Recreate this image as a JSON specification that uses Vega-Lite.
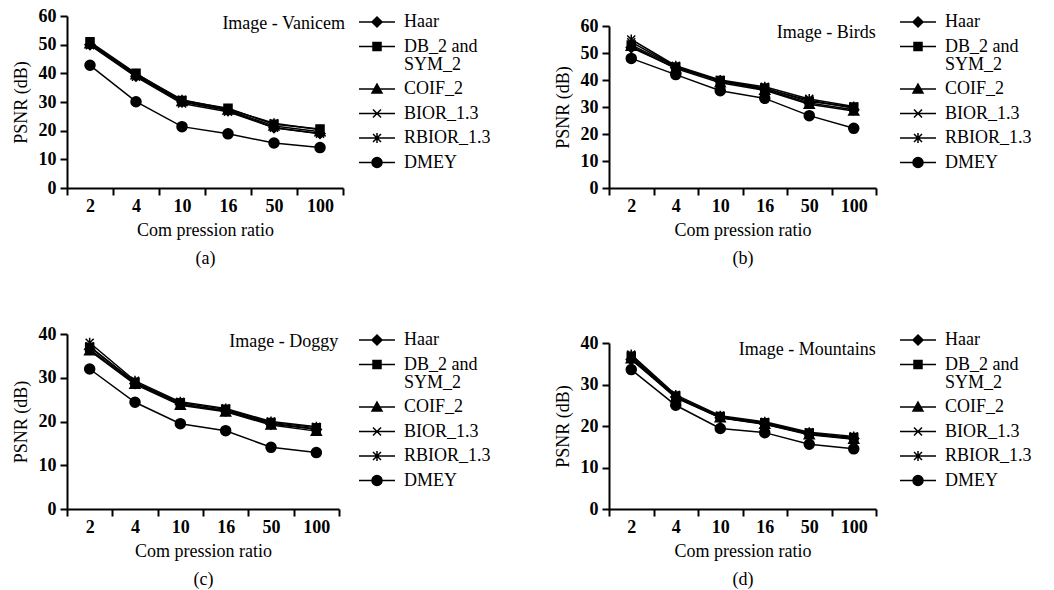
{
  "$schema": "https://vega.github.io/schema/vega-lite/v6.json",
  "padding": {"left": 12, "top": 7, "right": 5, "bottom": 5},
  "background": "white",
  "data": {"values": [
    {"p":"a","w":"Haar","r":"2","v":50},{"p":"a","w":"Haar","r":"4","v":39},{"p":"a","w":"Haar","r":"10","v":30},{"p":"a","w":"Haar","r":"16","v":27},{"p":"a","w":"Haar","r":"50","v":21},{"p":"a","w":"Haar","r":"100","v":19},
    {"p":"a","w":"DB_2 and SYM_2","r":"2","v":51},{"p":"a","w":"DB_2 and SYM_2","r":"4","v":40},{"p":"a","w":"DB_2 and SYM_2","r":"10","v":30.5},{"p":"a","w":"DB_2 and SYM_2","r":"16","v":27.8},{"p":"a","w":"DB_2 and SYM_2","r":"50","v":22.2},{"p":"a","w":"DB_2 and SYM_2","r":"100","v":20.6},
    {"p":"a","w":"COIF_2","r":"2","v":50.3},{"p":"a","w":"COIF_2","r":"4","v":39.5},{"p":"a","w":"COIF_2","r":"10","v":30.2},{"p":"a","w":"COIF_2","r":"16","v":27.2},{"p":"a","w":"COIF_2","r":"50","v":21.6},{"p":"a","w":"COIF_2","r":"100","v":19.6},
    {"p":"a","w":"BIOR_1.3","r":"2","v":49.8},{"p":"a","w":"BIOR_1.3","r":"4","v":38.8},{"p":"a","w":"BIOR_1.3","r":"10","v":29.5},{"p":"a","w":"BIOR_1.3","r":"16","v":26.6},{"p":"a","w":"BIOR_1.3","r":"50","v":21},{"p":"a","w":"BIOR_1.3","r":"100","v":18.9},
    {"p":"a","w":"RBIOR_1.3","r":"2","v":50.5},{"p":"a","w":"RBIOR_1.3","r":"4","v":39.8},{"p":"a","w":"RBIOR_1.3","r":"10","v":30.8},{"p":"a","w":"RBIOR_1.3","r":"16","v":27.5},{"p":"a","w":"RBIOR_1.3","r":"50","v":22.6},{"p":"a","w":"RBIOR_1.3","r":"100","v":20.3},
    {"p":"a","w":"DMEY","r":"2","v":42.8},{"p":"a","w":"DMEY","r":"4","v":30.1},{"p":"a","w":"DMEY","r":"10","v":21.4},{"p":"a","w":"DMEY","r":"16","v":18.9},{"p":"a","w":"DMEY","r":"50","v":15.7},{"p":"a","w":"DMEY","r":"100","v":14.1},

    {"p":"b","w":"Haar","r":"2","v":52},{"p":"b","w":"Haar","r":"4","v":44.5},{"p":"b","w":"Haar","r":"10","v":39.5},{"p":"b","w":"Haar","r":"16","v":36.5},{"p":"b","w":"Haar","r":"50","v":31.5},{"p":"b","w":"Haar","r":"100","v":29},
    {"p":"b","w":"DB_2 and SYM_2","r":"2","v":53},{"p":"b","w":"DB_2 and SYM_2","r":"4","v":44.8},{"p":"b","w":"DB_2 and SYM_2","r":"10","v":39.8},{"p":"b","w":"DB_2 and SYM_2","r":"16","v":37},{"p":"b","w":"DB_2 and SYM_2","r":"50","v":32},{"p":"b","w":"DB_2 and SYM_2","r":"100","v":30},
    {"p":"b","w":"COIF_2","r":"2","v":52.5},{"p":"b","w":"COIF_2","r":"4","v":44.2},{"p":"b","w":"COIF_2","r":"10","v":39},{"p":"b","w":"COIF_2","r":"16","v":36.2},{"p":"b","w":"COIF_2","r":"50","v":31},{"p":"b","w":"COIF_2","r":"100","v":28.5},
    {"p":"b","w":"BIOR_1.3","r":"2","v":54},{"p":"b","w":"BIOR_1.3","r":"4","v":45},{"p":"b","w":"BIOR_1.3","r":"10","v":39.5},{"p":"b","w":"BIOR_1.3","r":"16","v":36.8},{"p":"b","w":"BIOR_1.3","r":"50","v":32.5},{"p":"b","w":"BIOR_1.3","r":"100","v":29.5},
    {"p":"b","w":"RBIOR_1.3","r":"2","v":55},{"p":"b","w":"RBIOR_1.3","r":"4","v":45.3},{"p":"b","w":"RBIOR_1.3","r":"10","v":40},{"p":"b","w":"RBIOR_1.3","r":"16","v":37.5},{"p":"b","w":"RBIOR_1.3","r":"50","v":33},{"p":"b","w":"RBIOR_1.3","r":"100","v":30.2},
    {"p":"b","w":"DMEY","r":"2","v":48},{"p":"b","w":"DMEY","r":"4","v":42},{"p":"b","w":"DMEY","r":"10","v":36},{"p":"b","w":"DMEY","r":"16","v":33.2},{"p":"b","w":"DMEY","r":"50","v":26.8},{"p":"b","w":"DMEY","r":"100","v":22.1},

    {"p":"c","w":"Haar","r":"2","v":36.5},{"p":"c","w":"Haar","r":"4","v":28.7},{"p":"c","w":"Haar","r":"10","v":24},{"p":"c","w":"Haar","r":"16","v":22.4},{"p":"c","w":"Haar","r":"50","v":19.4},{"p":"c","w":"Haar","r":"100","v":18.2},
    {"p":"c","w":"DB_2 and SYM_2","r":"2","v":37},{"p":"c","w":"DB_2 and SYM_2","r":"4","v":29},{"p":"c","w":"DB_2 and SYM_2","r":"10","v":24.3},{"p":"c","w":"DB_2 and SYM_2","r":"16","v":22.8},{"p":"c","w":"DB_2 and SYM_2","r":"50","v":19.8},{"p":"c","w":"DB_2 and SYM_2","r":"100","v":18.6},
    {"p":"c","w":"COIF_2","r":"2","v":36.2},{"p":"c","w":"COIF_2","r":"4","v":28.5},{"p":"c","w":"COIF_2","r":"10","v":23.7},{"p":"c","w":"COIF_2","r":"16","v":22.2},{"p":"c","w":"COIF_2","r":"50","v":19.2},{"p":"c","w":"COIF_2","r":"100","v":17.8},
    {"p":"c","w":"BIOR_1.3","r":"2","v":37.2},{"p":"c","w":"BIOR_1.3","r":"4","v":28.9},{"p":"c","w":"BIOR_1.3","r":"10","v":23.9},{"p":"c","w":"BIOR_1.3","r":"16","v":22.5},{"p":"c","w":"BIOR_1.3","r":"50","v":19.6},{"p":"c","w":"BIOR_1.3","r":"100","v":18.3},
    {"p":"c","w":"RBIOR_1.3","r":"2","v":38},{"p":"c","w":"RBIOR_1.3","r":"4","v":29.3},{"p":"c","w":"RBIOR_1.3","r":"10","v":24.5},{"p":"c","w":"RBIOR_1.3","r":"16","v":23},{"p":"c","w":"RBIOR_1.3","r":"50","v":20},{"p":"c","w":"RBIOR_1.3","r":"100","v":18.8},
    {"p":"c","w":"DMEY","r":"2","v":32},{"p":"c","w":"DMEY","r":"4","v":24.4},{"p":"c","w":"DMEY","r":"10","v":19.5},{"p":"c","w":"DMEY","r":"16","v":17.9},{"p":"c","w":"DMEY","r":"50","v":14.1},{"p":"c","w":"DMEY","r":"100","v":12.9},

    {"p":"d","w":"Haar","r":"2","v":36},{"p":"d","w":"Haar","r":"4","v":27},{"p":"d","w":"Haar","r":"10","v":22},{"p":"d","w":"Haar","r":"16","v":20.5},{"p":"d","w":"Haar","r":"50","v":18},{"p":"d","w":"Haar","r":"100","v":17},
    {"p":"d","w":"DB_2 and SYM_2","r":"2","v":36.8},{"p":"d","w":"DB_2 and SYM_2","r":"4","v":27.2},{"p":"d","w":"DB_2 and SYM_2","r":"10","v":22.3},{"p":"d","w":"DB_2 and SYM_2","r":"16","v":20.8},{"p":"d","w":"DB_2 and SYM_2","r":"50","v":18.3},{"p":"d","w":"DB_2 and SYM_2","r":"100","v":17.2},
    {"p":"d","w":"COIF_2","r":"2","v":36.2},{"p":"d","w":"COIF_2","r":"4","v":26.8},{"p":"d","w":"COIF_2","r":"10","v":22},{"p":"d","w":"COIF_2","r":"16","v":20.4},{"p":"d","w":"COIF_2","r":"50","v":17.9},{"p":"d","w":"COIF_2","r":"100","v":16.8},
    {"p":"d","w":"BIOR_1.3","r":"2","v":36.5},{"p":"d","w":"BIOR_1.3","r":"4","v":27},{"p":"d","w":"BIOR_1.3","r":"10","v":22.1},{"p":"d","w":"BIOR_1.3","r":"16","v":20.6},{"p":"d","w":"BIOR_1.3","r":"50","v":18.1},{"p":"d","w":"BIOR_1.3","r":"100","v":16.9},
    {"p":"d","w":"RBIOR_1.3","r":"2","v":37.2},{"p":"d","w":"RBIOR_1.3","r":"4","v":27.5},{"p":"d","w":"RBIOR_1.3","r":"10","v":22.5},{"p":"d","w":"RBIOR_1.3","r":"16","v":21},{"p":"d","w":"RBIOR_1.3","r":"50","v":18.5},{"p":"d","w":"RBIOR_1.3","r":"100","v":17.5},
    {"p":"d","w":"DMEY","r":"2","v":33.6},{"p":"d","w":"DMEY","r":"4","v":25},{"p":"d","w":"DMEY","r":"10","v":19.4},{"p":"d","w":"DMEY","r":"16","v":18.4},{"p":"d","w":"DMEY","r":"50","v":15.6},{"p":"d","w":"DMEY","r":"100","v":14.5}
  ]},
  "config": {
    "font": "Liberation Serif",
    "view": {"stroke": null},
    "text": {"font": "Liberation Serif"},
    "style": {"guide-label": {"lineHeight": 18}},
    "axis": {"domainColor": "black", "domainWidth": 2, "tickColor": "black", "tickWidth": 2, "tickSize": 7, "labelFont": "Liberation Serif", "labelFontSize": 18, "labelFontWeight": "bold", "labelColor": "black", "titleFont": "Liberation Serif", "titleFontSize": 18, "titleFontWeight": "normal", "titleColor": "black", "grid": false},
    "axisX": {"labelPadding": 2, "titlePadding": 6, "titleLineHeight": 28, "labelAngle": 0, "tickBand": "extent"},
    "axisY": {"labelPadding": 4, "titlePadding": 8},
    "legend": {"labelFont": "Liberation Serif", "labelFontSize": 18, "labelColor": "black", "symbolSize": 100, "rowPadding": 6.5, "labelOffset": 18, "padding": 0, "labelLimit": 200}
  },
  "spacing": 58,
  "vconcat": [
    {"hconcat": [
      {"width": 276, "height": 172,
       "transform": [{"filter": "datum.p == 'a'"}],
       "encoding": {
         "x": {"field": "r", "type": "ordinal", "sort": ["2","4","10","16","50","100"], "scale": {"type": "band", "paddingInner": 0, "paddingOuter": 0}, "axis": {"title": ["Com pression ratio", "(a)"]}},
         "y": {"field": "v", "type": "quantitative", "scale": {"domain": [0, 60]}, "axis": {"values": [0,10,20,30,40,50,60], "title": "PSNR (dB)"}}
       },
       "layer": [
         {"mark": {"type": "line", "color": "black", "strokeWidth": 1.5}, "encoding": {"detail": {"field": "w"}}},
         {"mark": {"type": "point", "fill": "black", "stroke": "black", "strokeWidth": 1.5, "opacity": 1, "size": 100},
          "encoding": {"shape": {"field": "w", "type": "nominal", "scale": {"domain": ["Haar","DB_2 and SYM_2","COIF_2","BIOR_1.3","RBIOR_1.3","DMEY"], "range": ["M0,-1L1,0L0,1L-1,0Z","M-0.8,-0.8H0.8V0.8H-0.8Z","M0,-1L1,0.8H-1Z","M-0.8,-0.8L0.8,0.8M-0.8,0.8L0.8,-0.8","M-0.8,-0.8L0.8,0.8M-0.8,0.8L0.8,-0.8M0,-1V1","M-1,0A1,1 0 1,0 1,0A1,1 0 1,0 -1,0Z"]}, "legend": null}}},
         {"transform": [{"filter": "false"}],
          "mark": {"type": "point", "fill": "black", "stroke": "black", "strokeWidth": 2, "opacity": 1, "size": 100},
          "encoding": {"shape": {"field": "w", "type": "nominal", "scale": {"domain": ["Haar","DB_2 and SYM_2","COIF_2","BIOR_1.3","RBIOR_1.3","DMEY"], "range": ["M-3.6,0H3.6M0,-1L1,0L0,1L-1,0Z","M-3.6,0H3.6M-0.8,-0.8H0.8V0.8H-0.8Z","M-3.6,0H3.6M0,-1L1,0.8H-1Z","M-3.6,0H3.6M-0.8,-0.8L0.8,0.8M-0.8,0.8L0.8,-0.8","M-3.6,0H3.6M-0.8,-0.8L0.8,0.8M-0.8,0.8L0.8,-0.8M0,-1V1","M-3.6,0H3.6M-1,0A1,1 0 1,0 1,0A1,1 0 1,0 -1,0Z"]},
            "legend": {"title": null, "orient": "none", "legendX": 301, "legendY": -3, "labelFont": "Liberation Serif", "labelExpr": "datum.label == 'DB_2 and SYM_2' ? ['DB_2 and', 'SYM_2'] : datum.label",
              "encode": {"symbols": {"update": {"stroke": {"value": "black"}, "strokeWidth": {"value": 2}, "fill": {"value": "black"}}}}}}}},
         {"transform": [{"filter": "datum.w == 'Haar' && datum.r == '100'"}],
          "mark": {"type": "text", "align": "right", "baseline": "middle", "dx": 25, "dy": 8, "fontSize": 18, "font": "Liberation Serif", "color": "black"},
          "encoding": {"x": {"datum": "100"}, "y": {"datum": 60}, "text": {"value": "Image - Vanicem"}}}
       ],
       "resolve": {"scale": {"shape": "independent"}, "legend": {"shape": "independent"}}
      },
      {"width": 267, "height": 172,
       "transform": [{"filter": "datum.p == 'b'"}],
       "encoding": {
         "x": {"field": "r", "type": "ordinal", "sort": ["2","4","10","16","50","100"], "scale": {"type": "band", "paddingInner": 0, "paddingOuter": 0}, "axis": {"title": ["Com pression ratio", "(b)"]}},
         "y": {"field": "v", "type": "quantitative", "scale": {"domain": [0, 60], "range": [172, 10]}, "axis": {"values": [0,10,20,30,40,50,60], "title": "PSNR (dB)"}}
       },
       "layer": [
         {"mark": {"type": "line", "color": "black", "strokeWidth": 1.5}, "encoding": {"detail": {"field": "w"}}},
         {"mark": {"type": "point", "fill": "black", "stroke": "black", "strokeWidth": 1.5, "opacity": 1, "size": 100},
          "encoding": {"shape": {"field": "w", "type": "nominal", "scale": {"domain": ["Haar","DB_2 and SYM_2","COIF_2","BIOR_1.3","RBIOR_1.3","DMEY"], "range": ["M0,-1L1,0L0,1L-1,0Z","M-0.8,-0.8H0.8V0.8H-0.8Z","M0,-1L1,0.8H-1Z","M-0.8,-0.8L0.8,0.8M-0.8,0.8L0.8,-0.8","M-0.8,-0.8L0.8,0.8M-0.8,0.8L0.8,-0.8M0,-1V1","M-1,0A1,1 0 1,0 1,0A1,1 0 1,0 -1,0Z"]}, "legend": null}}},
         {"transform": [{"filter": "false"}],
          "mark": {"type": "point", "fill": "black", "stroke": "black", "strokeWidth": 2, "opacity": 1, "size": 100},
          "encoding": {"shape": {"field": "w", "type": "nominal", "scale": {"domain": ["Haar","DB_2 and SYM_2","COIF_2","BIOR_1.3","RBIOR_1.3","DMEY"], "range": ["M-3.6,0H3.6M0,-1L1,0L0,1L-1,0Z","M-3.6,0H3.6M-0.8,-0.8H0.8V0.8H-0.8Z","M-3.6,0H3.6M0,-1L1,0.8H-1Z","M-3.6,0H3.6M-0.8,-0.8L0.8,0.8M-0.8,0.8L0.8,-0.8","M-3.6,0H3.6M-0.8,-0.8L0.8,0.8M-0.8,0.8L0.8,-0.8M0,-1V1","M-3.6,0H3.6M-1,0A1,1 0 1,0 1,0A1,1 0 1,0 -1,0Z"]},
            "legend": {"title": null, "orient": "none", "legendX": 300, "legendY": -3, "labelFont": "Liberation Serif", "labelExpr": "datum.label == 'DB_2 and SYM_2' ? ['DB_2 and', 'SYM_2'] : datum.label",
              "encode": {"symbols": {"update": {"stroke": {"value": "black"}, "strokeWidth": {"value": 2}, "fill": {"value": "black"}}}}}}}},
         {"transform": [{"filter": "datum.w == 'Haar' && datum.r == '100'"}],
          "mark": {"type": "text", "align": "right", "baseline": "middle", "dx": 22, "dy": 7, "fontSize": 18, "font": "Liberation Serif", "color": "black"},
          "encoding": {"x": {"datum": "100"}, "y": {"datum": 60}, "text": {"value": "Image - Birds"}}}
       ],
       "resolve": {"scale": {"shape": "independent"}, "legend": {"shape": "independent"}}
      }
    ], "spacing": 63},
    {"hconcat": [
      {"width": 272, "height": 175,
       "transform": [{"filter": "datum.p == 'c'"}],
       "encoding": {
         "x": {"field": "r", "type": "ordinal", "sort": ["2","4","10","16","50","100"], "scale": {"type": "band", "paddingInner": 0, "paddingOuter": 0}, "axis": {"title": ["Com pression ratio", "(c)"]}},
         "y": {"field": "v", "type": "quantitative", "scale": {"domain": [0, 40]}, "axis": {"values": [0,10,20,30,40], "title": "PSNR (dB)"}}
       },
       "layer": [
         {"mark": {"type": "line", "color": "black", "strokeWidth": 1.5}, "encoding": {"detail": {"field": "w"}}},
         {"mark": {"type": "point", "fill": "black", "stroke": "black", "strokeWidth": 1.5, "opacity": 1, "size": 100},
          "encoding": {"shape": {"field": "w", "type": "nominal", "scale": {"domain": ["Haar","DB_2 and SYM_2","COIF_2","BIOR_1.3","RBIOR_1.3","DMEY"], "range": ["M0,-1L1,0L0,1L-1,0Z","M-0.8,-0.8H0.8V0.8H-0.8Z","M0,-1L1,0.8H-1Z","M-0.8,-0.8L0.8,0.8M-0.8,0.8L0.8,-0.8","M-0.8,-0.8L0.8,0.8M-0.8,0.8L0.8,-0.8M0,-1V1","M-1,0A1,1 0 1,0 1,0A1,1 0 1,0 -1,0Z"]}, "legend": null}}},
         {"transform": [{"filter": "false"}],
          "mark": {"type": "point", "fill": "black", "stroke": "black", "strokeWidth": 2, "opacity": 1, "size": 100},
          "encoding": {"shape": {"field": "w", "type": "nominal", "scale": {"domain": ["Haar","DB_2 and SYM_2","COIF_2","BIOR_1.3","RBIOR_1.3","DMEY"], "range": ["M-3.6,0H3.6M0,-1L1,0L0,1L-1,0Z","M-3.6,0H3.6M-0.8,-0.8H0.8V0.8H-0.8Z","M-3.6,0H3.6M0,-1L1,0.8H-1Z","M-3.6,0H3.6M-0.8,-0.8L0.8,0.8M-0.8,0.8L0.8,-0.8","M-3.6,0H3.6M-0.8,-0.8L0.8,0.8M-0.8,0.8L0.8,-0.8M0,-1V1","M-3.6,0H3.6M-1,0A1,1 0 1,0 1,0A1,1 0 1,0 -1,0Z"]},
            "legend": {"title": null, "orient": "none", "legendX": 301, "legendY": -3, "labelFont": "Liberation Serif", "labelExpr": "datum.label == 'DB_2 and SYM_2' ? ['DB_2 and', 'SYM_2'] : datum.label",
              "encode": {"symbols": {"update": {"stroke": {"value": "black"}, "strokeWidth": {"value": 2}, "fill": {"value": "black"}}}}}}}},
         {"transform": [{"filter": "datum.w == 'Haar' && datum.r == '100'"}],
          "mark": {"type": "text", "align": "right", "baseline": "middle", "dx": 22, "dy": 8, "fontSize": 18, "font": "Liberation Serif", "color": "black"},
          "encoding": {"x": {"datum": "100"}, "y": {"datum": 40}, "text": {"value": "Image - Doggy"}}}
       ],
       "resolve": {"scale": {"shape": "independent"}, "legend": {"shape": "independent"}}
      },
      {"width": 267, "height": 175,
       "transform": [{"filter": "datum.p == 'd'"}],
       "encoding": {
         "x": {"field": "r", "type": "ordinal", "sort": ["2","4","10","16","50","100"], "scale": {"type": "band", "paddingInner": 0, "paddingOuter": 0}, "axis": {"title": ["Com pression ratio", "(d)"]}},
         "y": {"field": "v", "type": "quantitative", "scale": {"domain": [0, 40], "range": [175, 9]}, "axis": {"values": [0,10,20,30,40], "title": "PSNR (dB)"}}
       },
       "layer": [
         {"mark": {"type": "line", "color": "black", "strokeWidth": 1.5}, "encoding": {"detail": {"field": "w"}}},
         {"mark": {"type": "point", "fill": "black", "stroke": "black", "strokeWidth": 1.5, "opacity": 1, "size": 100},
          "encoding": {"shape": {"field": "w", "type": "nominal", "scale": {"domain": ["Haar","DB_2 and SYM_2","COIF_2","BIOR_1.3","RBIOR_1.3","DMEY"], "range": ["M0,-1L1,0L0,1L-1,0Z","M-0.8,-0.8H0.8V0.8H-0.8Z","M0,-1L1,0.8H-1Z","M-0.8,-0.8L0.8,0.8M-0.8,0.8L0.8,-0.8","M-0.8,-0.8L0.8,0.8M-0.8,0.8L0.8,-0.8M0,-1V1","M-1,0A1,1 0 1,0 1,0A1,1 0 1,0 -1,0Z"]}, "legend": null}}},
         {"transform": [{"filter": "false"}],
          "mark": {"type": "point", "fill": "black", "stroke": "black", "strokeWidth": 2, "opacity": 1, "size": 100},
          "encoding": {"shape": {"field": "w", "type": "nominal", "scale": {"domain": ["Haar","DB_2 and SYM_2","COIF_2","BIOR_1.3","RBIOR_1.3","DMEY"], "range": ["M-3.6,0H3.6M0,-1L1,0L0,1L-1,0Z","M-3.6,0H3.6M-0.8,-0.8H0.8V0.8H-0.8Z","M-3.6,0H3.6M0,-1L1,0.8H-1Z","M-3.6,0H3.6M-0.8,-0.8L0.8,0.8M-0.8,0.8L0.8,-0.8","M-3.6,0H3.6M-0.8,-0.8L0.8,0.8M-0.8,0.8L0.8,-0.8M0,-1V1","M-3.6,0H3.6M-1,0A1,1 0 1,0 1,0A1,1 0 1,0 -1,0Z"]},
            "legend": {"title": null, "orient": "none", "legendX": 300, "legendY": -3, "labelFont": "Liberation Serif", "labelExpr": "datum.label == 'DB_2 and SYM_2' ? ['DB_2 and', 'SYM_2'] : datum.label",
              "encode": {"symbols": {"update": {"stroke": {"value": "black"}, "strokeWidth": {"value": 2}, "fill": {"value": "black"}}}}}}}},
         {"transform": [{"filter": "datum.w == 'Haar' && datum.r == '100'"}],
          "mark": {"type": "text", "align": "right", "baseline": "middle", "dx": 22, "dy": 7, "fontSize": 18, "font": "Liberation Serif", "color": "black"},
          "encoding": {"x": {"datum": "100"}, "y": {"datum": 40}, "text": {"value": "Image - Mountains"}}}
       ],
       "resolve": {"scale": {"shape": "independent"}, "legend": {"shape": "independent"}}
      }
    ], "spacing": 63}
  ]
}
